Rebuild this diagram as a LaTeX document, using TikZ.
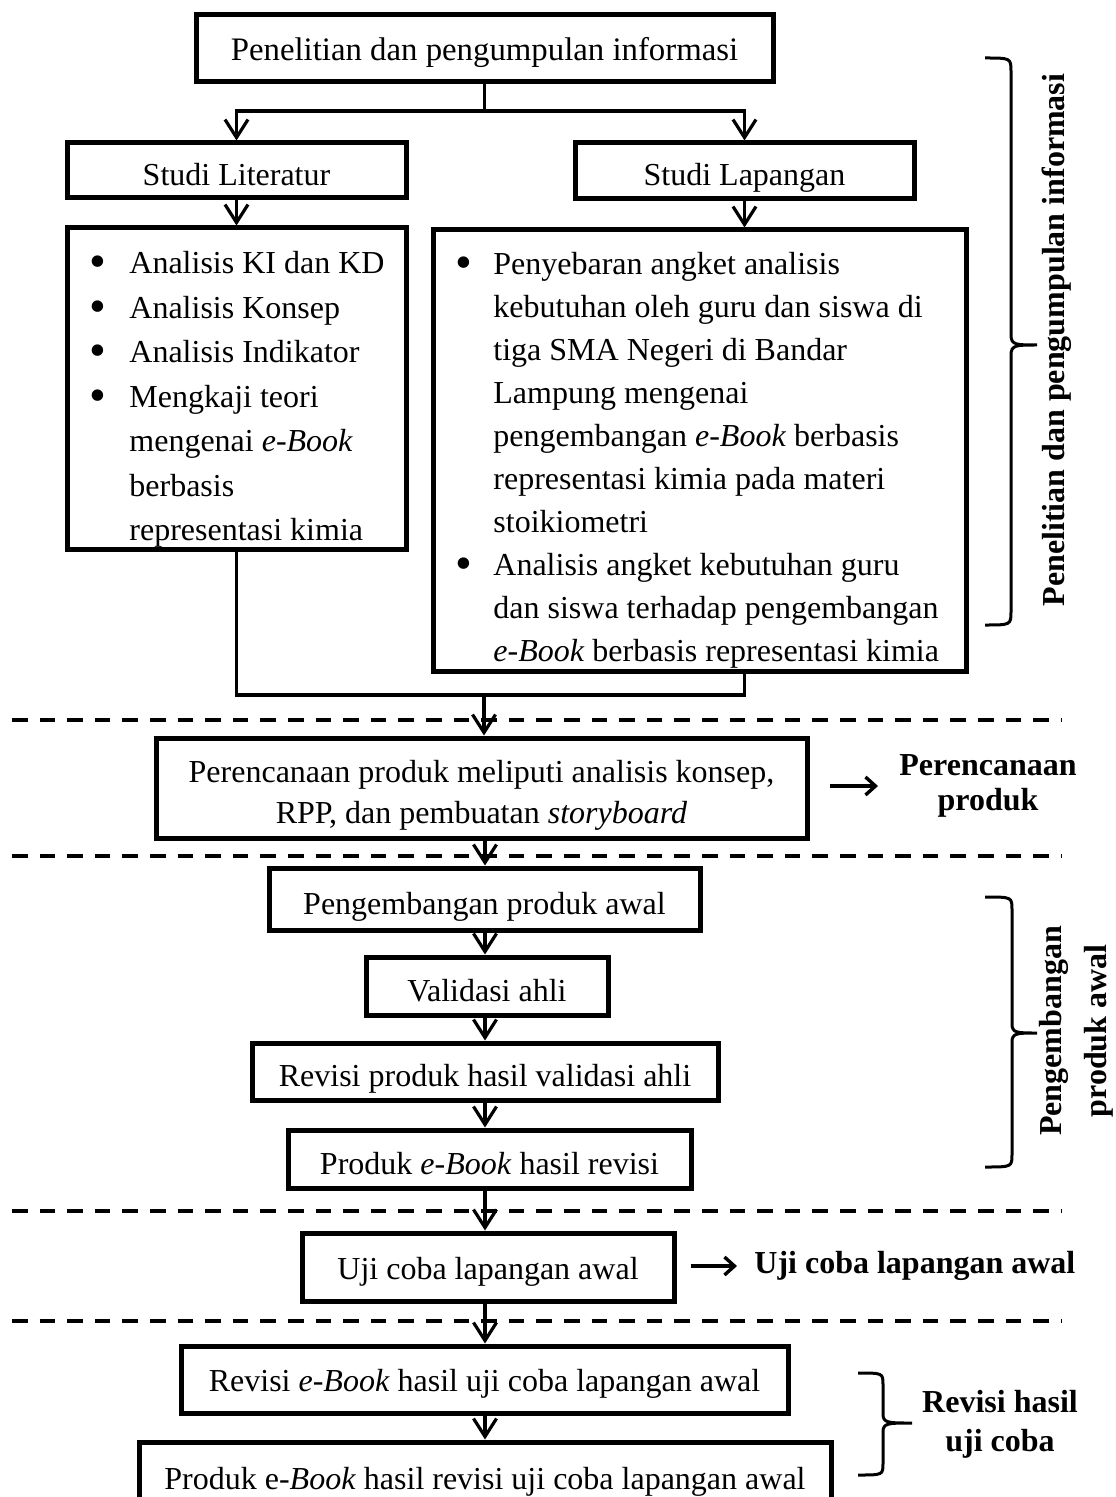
\documentclass[tikz,border=0pt]{standalone}
\usepackage{fontspec}
\setmainfont{Liberation Serif}
\usetikzlibrary{arrows.meta,calc}
\newcommand{\bigbul}{\raisebox{-0.11em}{\scalebox{1.5}{\textbullet}}}
\begin{document}
\begin{tikzpicture}[x=0.5pt,y=-0.5pt,
  every node/.style={font=\fontsize{16}{20}\selectfont},
  boxb/.style={draw, line width=2.5pt, inner sep=0pt, align=center},
  box/.style={boxb, text height=15pt, text depth=0pt},
  boxc/.style={boxb, text height=12pt, text depth=0pt},
  conn/.style={line width=1.6pt},
  arr/.style={conn, -{Straight Barb[length=9pt,width=11.5pt]}},
  sidearr/.style={line width=1.7pt, -{Straight Barb[length=5pt,width=9pt]}},
  sepline/.style={line width=2.3pt, dash pattern=on 7.8pt off 6pt},
  brc/.style={line width=1.5pt},
  lbl/.style={font=\fontsize{16}{20}\selectfont\bfseries, align=center, inner sep=0pt},
]
\useasboundingbox (0,0) rectangle (1115,1497);

% separators
\foreach \yy in {720,856,1211,1321} \draw[sepline] (12,\yy) -- (1062,\yy);

% boxes
\node[boxc, minimum width=288.5pt, minimum height=33.5pt, font=\fontsize{16.4}{20}\selectfont] (top) at (484.5,48.5) {Penelitian dan pengumpulan informasi};
\node[box, minimum width=169.5pt, minimum height=27.5pt] (slit) at (236.5,170.5) {Studi Literatur};
\node[box, minimum width=169.5pt, minimum height=28pt] (slap) at (744.5,171) {Studi Lapangan};
\node[box, minimum width=169.5pt, minimum height=160.5pt] (lbox) at (236.5,388.5) {};
\node[box, minimum width=266.5pt, minimum height=220.5pt] (rbox) at (699.5,450.5) {};

\node[anchor=base west, inner sep=0pt] (ltxt) at (89,274) {\fontsize{16}{22.25}\selectfont\begin{tabular}[t]{@{}p{20pt}@{}l@{}}
\bigbul & Analisis KI dan KD\\
\bigbul & Analisis Konsep\\
\bigbul & Analisis Indikator\\
\bigbul & Mengkaji teori\\
 & mengenai \textit{e-Book}\\
 & berbasis\\
 & representasi kimia
\end{tabular}};

\node[anchor=base west, inner sep=0pt] (rtxt) at (455,275) {\fontsize{16}{21.5}\selectfont\begin{tabular}[t]{@{}p{19pt}@{}l@{}}
\bigbul & Penyebaran angket analisis\\
 & kebutuhan oleh guru dan siswa di\\
 & tiga SMA Negeri di Bandar\\
 & Lampung mengenai\\
 & pengembangan \textit{e-Book} berbasis\\
 & representasi kimia pada materi\\
 & stoikiometri\\
\bigbul & Analisis angket kebutuhan guru\\
 & dan siswa terhadap pengembangan\\
 & \textit{e-Book} berbasis representasi kimia
\end{tabular}};

\node[boxb, minimum width=325.5pt, minimum height=50pt, font=\fontsize{16}{20.5}\selectfont] (perenc) at (481.5,788) {\rule{0pt}{18pt}Perencanaan produk meliputi analisis konsep,\\RPP, dan pembuatan \textit{storyboard}};
\node[box, minimum width=215.5pt, minimum height=31pt] (peng) at (484.5,899) {Pengembangan produk awal};
\node[box, minimum width=121pt, minimum height=29pt] (valid) at (487,986) {Validasi ahli};
\node[box, minimum width=233pt, minimum height=28.5pt] (revp) at (485,1071.5) {Revisi produk hasil validasi ahli};
\node[box, minimum width=201.5pt, minimum height=29pt] (prod) at (489.5,1159) {Produk \textit{e-Book} hasil revisi};
\node[boxc, minimum width=186pt, minimum height=34pt] (uji) at (488,1267) {Uji coba lapangan awal};
\node[boxc, minimum width=303.5pt, minimum height=33.5pt] (reve) at (484.5,1379.5) {Revisi \textit{e-Book} hasil uji coba lapangan awal};
\node[box, minimum width=346pt, minimum height=32pt] (final) at (485,1474) {Produk e-\textit{Book} hasil revisi uji coba lapangan awal};

% labels
\node[lbl, font=\fontsize{16}{17.5}\selectfont\bfseries] (lblP) at (988,786) {Perencanaan\\produk};
\node[lbl, anchor=west] (lblU) at (754,1266) {Uji coba lapangan awal};
\node[lbl, font=\fontsize{16}{19.5}\selectfont\bfseries] (lblR) at (1000,1424) {Revisi hasil\\uji coba};
\node[lbl, rotate=90] (lblA) at (1057,340) {Penelitian dan pengumpulan informasi};
\node[lbl, rotate=90, font=\fontsize{16}{22.5}\selectfont\bfseries] (lblD) at (1076,1031) {Pengembangan\\produk awal};

% connectors
\coordinate (split) at (484.5,111);
\coordinate (merge) at (484,695);
\coordinate (spine) at (485,0);
\draw[conn] (top.south) -- (split);
\draw[arr] (split) -| (slit.north);
\draw[arr] (split) -| (slap.north);
\draw[arr] (slit.south) -- (lbox.north);
\draw[arr] (slap.south) -- (slap.south |- rbox.north);
\draw[conn] (lbox.south) |- (merge) -| (slap.south |- rbox.south);
\draw[arr] (merge) -- (merge |- perenc.north);
\draw[arr] (perenc.south -| spine) -- (peng.north -| spine);
\draw[arr] (peng.south -| spine) -- (valid.north -| spine);
\draw[arr] (valid.south -| spine) -- (revp.north -| spine);
\draw[arr] (revp.south -| spine) -- (prod.north -| spine);
\draw[arr] (prod.south -| spine) -- (uji.north -| spine);
\draw[arr] (uji.south -| spine) -- (reve.north -| spine);
\draw[arr] (reve.south -| spine) -- (final.north -| spine);

\draw[sidearr, shorten <=10pt, shorten >=10.5pt] (perenc.east |- lblP.west) -- (lblP.west);
\draw[sidearr, shorten <=7pt, shorten >=8.5pt] (uji.east |- lblU.west) -- (lblU.west);

% braces
\draw[brc] (985,58) .. controls (1011,58) .. (1011,72) -- (1011,335) .. controls (1011,345) and (1016,345) .. (1037,345) .. controls (1016,345) and (1011,345) .. (1011,355) -- (1011,611) .. controls (1011,625) .. (985,625);
\draw[brc] (985,897) .. controls (1012,897) .. (1012,910) -- (1012,1024) .. controls (1012,1033) and (1017,1033) .. (1037,1033) .. controls (1017,1033) and (1012,1033) .. (1012,1042) -- (1012,1154) .. controls (1012,1167) .. (985,1167);
\draw[brc] (858,1373) .. controls (883,1373) .. (883,1385) -- (883,1414) .. controls (883,1423) and (888,1423) .. (912,1423) .. controls (888,1423) and (883,1423) .. (883,1432) -- (883,1463) .. controls (883,1475) .. (858,1475);
\end{tikzpicture}
\end{document}
